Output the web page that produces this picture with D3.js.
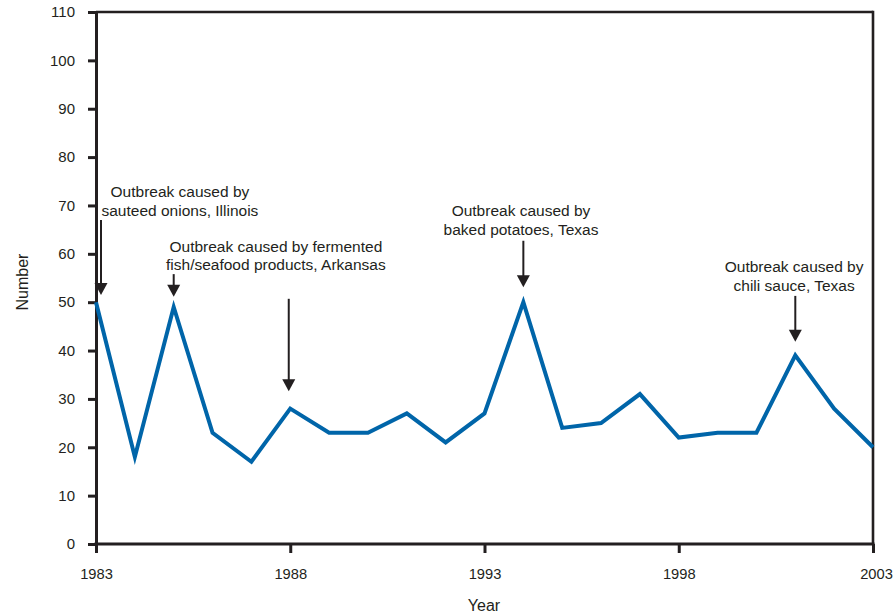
<!DOCTYPE html>
<html><head><meta charset="utf-8">
<script src="https://cdn.jsdelivr.net/npm/d3@7"></script>
<style>
body{margin:0;background:#fff;}
text{font-family:"Liberation Sans",Arial,Helvetica,sans-serif;fill:#231f20;}
</style></head>
<body><svg id="c" width="893" height="615"></svg>
<script>
const years = [1983,1984,1985,1986,1987,1988,1989,1990,1991,1992,1993,1994,1995,1996,1997,1998,1999,2000,2001,2002,2003];
const outbreaks = [50,18,49,23,17,28,23,23,27,21,27,50,24,25,31,22,23,23,39,28,20];
const xTicks = [1983,1988,1993,1998,2003];
const yTicks = [0,10,20,30,40,50,60,70,80,90,100,110];
const annotYears = [1983,1985,1988,1994,2001];
const annotArrowFrom = [67,55.8,50.7,62.7,51.3];
const annotArrowTo = [51.5,51.1,31.6,53.1,41.8];
const annotLabels = [
  ["Outbreak caused by","sauteed onions, Illinois"],
  ["Outbreak caused by fermented","fish/seafood products, Arkansas"],
  null,
  ["Outbreak caused by","baked potatoes, Texas"],
  ["Outbreak caused by","chili sauce, Texas"]
];
const labelYears = [1985.16,1987.63,null,1993.94,2000.97];
const labelValues = [71.7,60.4,null,67.8,56.2];

const svg = d3.select("#c");
const L=96,R=873,T=12,B=544;
const x = d3.scaleLinear().domain([1983,2003]).range([L,R]);
const y = d3.scaleLinear().domain([0,110]).range([B,T]);
const ink="#231f20";

// frame top & right
svg.append("line").attr("x1",L).attr("x2",R).attr("y1",T).attr("y2",T).attr("stroke",ink).attr("stroke-width",2.6);
svg.append("line").attr("x1",R).attr("x2",R).attr("y1",T-1.3).attr("y2",B).attr("stroke",ink).attr("stroke-width",2.6);

// y axis
const ya = svg.append("g").attr("transform",`translate(${L},0)`)
  .call(d3.axisLeft(y).tickValues(yTicks).tickSize(8).tickPadding(13).tickSizeOuter(0));
ya.select(".domain").attr("stroke",ink).attr("stroke-width",3);
ya.selectAll(".tick line").attr("stroke",ink).attr("stroke-width",3);
ya.selectAll(".tick text").attr("font-size","15px").attr("fill",ink).style("font-family","'Liberation Sans',Arial,sans-serif");

// x axis
const xa = svg.append("g").attr("transform",`translate(0,${B})`)
  .call(d3.axisBottom(x).tickValues(xTicks).tickFormat(d3.format("d")).tickSize(9).tickPadding(16).tickSizeOuter(0));
xa.select(".domain").attr("stroke",ink).attr("stroke-width",3).attr("d",`M${L-1.5},0H${R+1.5}`);
xa.selectAll(".tick line").attr("stroke",ink).attr("stroke-width",3);
xa.selectAll(".tick text").attr("font-size","14.7px").attr("fill",ink).style("font-family","'Liberation Sans',Arial,sans-serif");
xa.selectAll(".tick text").filter(d=>d===2003).attr("dx","3");

// axis titles
svg.append("text").attr("x",484).attr("y",611).attr("text-anchor","middle").attr("font-size","16px").text("Year");
svg.append("text").attr("transform","translate(28,282) rotate(-90)").attr("text-anchor","middle").attr("font-size","16px").text("Number");

// line
const data = years.map((yr,i)=>({yr,v:outbreaks[i]}));
svg.append("path").datum(data)
  .attr("d",d3.line().x(d=>x(d.yr)).y(d=>y(d.v)))
  .attr("fill","none").attr("stroke","#0065a9").attr("stroke-width",4).attr("stroke-linejoin","miter").attr("stroke-miterlimit",10);

// annotations
annotYears.forEach((yr,i)=>{
  const ax = x(yr) + (yr===1983?5:(yr===1988?-1.5:0));
  const y1 = y(annotArrowFrom[i]), y2 = y(annotArrowTo[i]);
  svg.append("line").attr("x1",ax).attr("x2",ax).attr("y1",y1).attr("y2",y2-10).attr("stroke",ink).attr("stroke-width",2);
  svg.append("path").attr("d",`M${ax-6.5},${y2-12}L${ax+6.5},${y2-12}L${ax},${y2}Z`).attr("fill",ink);
  if(annotLabels[i]){
    const t = svg.append("text").attr("text-anchor","middle").attr("font-size","15.5px")
      .attr("x",x(labelYears[i])).attr("y",y(labelValues[i]));
    annotLabels[i].forEach((s,j)=>t.append("tspan").attr("x",x(labelYears[i])).attr("dy",j?18.5:0).text(s));
  }
});
</script></body></html>
